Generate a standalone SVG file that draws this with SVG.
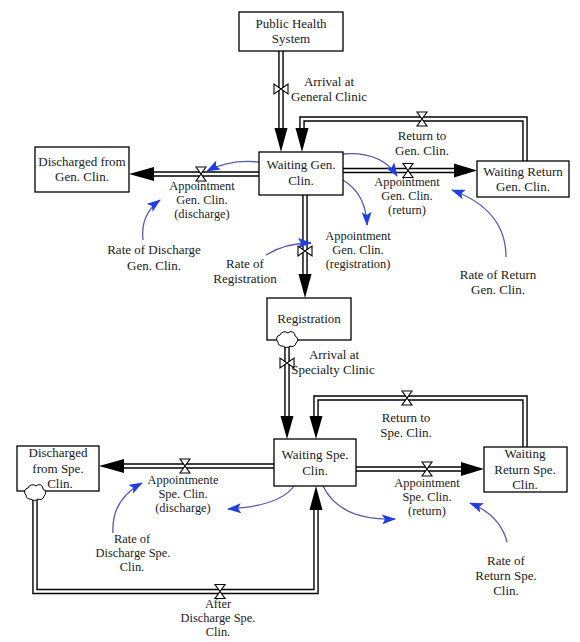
<svg xmlns="http://www.w3.org/2000/svg" xmlns:xlink="http://www.w3.org/1999/xlink" width="580" height="642" viewBox="0 0 580 642">
<style>
.box{fill:#fff;stroke:#000;stroke-width:1.3}
text{font-family:"Liberation Serif","Times New Roman",serif;font-size:13px;fill:#1a1a1a;text-anchor:middle}
.sm text{font-size:12.4px}
.po{fill:none;stroke:#000;stroke-width:5.5;stroke-linejoin:miter}
.pi{fill:none;stroke:#fff;stroke-width:2.7;stroke-linejoin:miter}
.ah{fill:#000}
.valve{fill:#fff;stroke:#000;stroke-width:1.1}
.cloud{fill:#fff;stroke:#000;stroke-width:1}
.link{fill:none;stroke:#5a5aa6;stroke-width:1.3;marker-end:url(#ba)}
</style>
<defs>
<marker id="ba" viewBox="0 0 14 10" refX="13" refY="5" markerWidth="14" markerHeight="10" markerUnits="userSpaceOnUse" orient="auto">
<path d="M0,0 L14,5 L0,10 L3,5 Z" fill="#1f3fe0"/>
</marker>
<path id="hg" d="M-5,-7H5L-5,7H5Z"/>
<path id="bt" d="M-7,-5V5L7,-5V5Z"/>
<path id="cl" d="M-9,3 A4,4 0 0 1 -7,-4 A5,5 0 0 1 1,-6 A4,4 0 0 1 8,-3 A4,4 0 0 1 9,4 A4,4 0 0 1 3,7 A5,5 0 0 1 -4,7 A4,4 0 0 1 -9,3 Z"/>
</defs>
<rect width="580" height="642" fill="#fff"/>

<g id="connectors">
<!-- pipes -->
<path class="po" d="M281,51V129"/><path class="pi" d="M281,51V130"/>
<path class="po" d="M525,161V119H302V129"/><path class="pi" d="M525,161V119H302V130"/>
<path class="po" d="M343,170.5H455"/><path class="pi" d="M343,170.5H456"/>
<path class="po" d="M259,174H153"/><path class="pi" d="M259,174H152"/>
<path class="po" d="M305,195V275"/><path class="pi" d="M305,195V276"/>
<path class="po" d="M287,345V417"/><path class="pi" d="M287,345V418"/>
<path class="po" d="M525,447V398H316V417"/><path class="pi" d="M525,447V398H316V418"/>
<path class="po" d="M356,469H462"/><path class="pi" d="M356,469H463"/>
<path class="po" d="M274,466H123"/><path class="pi" d="M274,466H122"/>
<path class="po" d="M35,497V591.5H316V509"/><path class="pi" d="M35,497V591.5H316V508"/>
<!-- arrowheads -->
<polygon class="ah" points="274.5,128 287.5,128 281,152"/>
<polygon class="ah" points="295.5,128 308.5,128 302,152"/>
<polygon class="ah" points="454,163.5 454,177.5 477,170.5"/>
<polygon class="ah" points="154,167 154,181 129,174"/>
<polygon class="ah" points="298.5,274 311.5,274 305,298"/>
<polygon class="ah" points="280.5,416 293.5,416 287,439"/>
<polygon class="ah" points="309.5,416 322.5,416 316,439"/>
<polygon class="ah" points="461,462 461,476 484,469"/>
<polygon class="ah" points="124,459 124,473 99,466"/>
<polygon class="ah" points="309.5,510 322.5,510 316,486"/>
<!-- information links -->
<path class="link" d="M259,162 Q230,159 207,171"/>
<path class="link" d="M143,240 Q140,215 160,200"/>
<path class="link" d="M266,255 Q285,243 311,243"/>
<path class="link" d="M343,180 Q366,194 367,225"/>
<path class="link" d="M343,154 Q381,151 397,176"/>
<path class="link" d="M506,257 Q506,210 452,190"/>
<path class="link" d="M294,486 Q280,506 228,509"/>
<path class="link" d="M113,533 Q111,500 142,483"/>
<path class="link" d="M323,486 Q340,521 395,519"/>
<path class="link" d="M507,542 Q500,515 470,503"/>
</g>

<g id="public-health-system">
<rect class="box" x="239" y="12" width="104" height="39"/>
<text x="291" y="28">Public Health</text>
<text x="291" y="43">System</text>
</g>
<g id="waiting-gen-clin">
<rect class="box" x="259" y="152" width="84" height="43"/>
<text x="301" y="169">Waiting Gen.</text>
<text x="301" y="185">Clin.</text>
</g>
<g id="discharged-gen-clin">
<rect class="box" x="35" y="147" width="94" height="45"/>
<text x="82" y="166">Discharged from</text>
<text x="82" y="181">Gen. Clin.</text>
</g>
<g id="waiting-return-gen-clin">
<rect class="box" x="477" y="161" width="92" height="36"/>
<text x="523" y="176">Waiting Return</text>
<text x="523" y="191">Gen. Clin.</text>
</g>
<g id="registration">
<rect class="box" x="267" y="298" width="84" height="42"/>
<text x="309" y="323">Registration</text>
<use href="#cl" class="cloud" x="287" y="339"/>
</g>
<g id="waiting-spe-clin">
<rect class="box" x="274" y="439" width="82" height="47"/>
<text x="315" y="459">Waiting Spe.</text>
<text x="315" y="475">Clin.</text>
</g>
<g id="waiting-return-spe-clin">
<rect class="box" x="484" y="447" width="83" height="45"/>
<text x="525" y="458">Waiting</text>
<text x="525" y="474">Return Spe.</text>
<text x="525" y="489">Clin.</text>
</g>
<g id="discharged-spe-clin">
<rect class="box" x="17" y="446" width="82" height="45"/>
<text x="58" y="457">Discharged</text>
<text x="58" y="473">from Spe.</text>
<text x="60" y="488">Clin.</text>
<use href="#cl" class="cloud" x="35" y="492"/>
</g>

<g id="arrival-general-clinic">
<use href="#bt" class="valve" x="281" y="89"/>
<text x="329" y="86">Arrival at</text>
<text x="329" y="101">General Clinic</text>
</g>
<g id="return-to-gen-clin">
<use href="#hg" class="valve" x="422" y="119"/>
<text x="422" y="140">Return to</text>
<text x="422" y="155">Gen. Clin.</text>
</g>
<g id="appointment-gen-clin-return" class="sm">
<use href="#hg" class="valve" x="408" y="170.5"/>
<text x="407" y="186">Appointment</text>
<text x="407" y="200">Gen. Clin.</text>
<text x="407" y="214">(return)</text>
</g>
<g id="appointment-gen-clin-discharge" class="sm">
<use href="#hg" class="valve" x="201" y="174"/>
<text x="202" y="190">Appointment</text>
<text x="202" y="204">Gen. Clin.</text>
<text x="202" y="218">(discharge)</text>
</g>
<g id="appointment-gen-clin-registration" class="sm">
<use href="#bt" class="valve" x="305" y="251"/>
<text x="358" y="240">Appointment</text>
<text x="358" y="254">Gen. Clin.</text>
<text x="358" y="268">(registration)</text>
</g>
<g id="rate-discharge-gen-clin">
<text x="154" y="254">Rate of Discharge</text>
<text x="154" y="270">Gen. Clin.</text>
</g>
<g id="rate-registration">
<text x="245" y="268">Rate of</text>
<text x="245" y="283">Registration</text>
</g>
<g id="rate-return-gen-clin">
<text x="498" y="279">Rate of Return</text>
<text x="498" y="294">Gen. Clin.</text>
</g>
<g id="arrival-specialty-clinic">
<use href="#bt" class="valve" x="287" y="363"/>
<text x="334" y="359">Arrival at</text>
<text x="333" y="374">Specialty Clinic</text>
</g>
<g id="return-to-spe-clin">
<use href="#hg" class="valve" x="407" y="398"/>
<text x="406" y="422">Return to</text>
<text x="406" y="437">Spe. Clin.</text>
</g>
<g id="appointment-spe-clin-return" class="sm">
<use href="#hg" class="valve" x="427" y="469"/>
<text x="427" y="487">Appointment</text>
<text x="427" y="501">Spe. Clin.</text>
<text x="427" y="515">(return)</text>
</g>
<g id="appointmente-spe-clin-discharge" class="sm">
<use href="#hg" class="valve" x="185" y="466"/>
<text x="183" y="484">Appointmente</text>
<text x="183" y="498">Spe. Clin.</text>
<text x="183" y="512">(discharge)</text>
</g>
<g id="rate-discharge-spe-clin" class="sm">
<text x="132" y="543">Rate of</text>
<text x="133" y="557">Discharge Spe.</text>
<text x="132" y="571">Clin.</text>
</g>
<g id="rate-return-spe-clin">
<text x="506" y="565">Rate of</text>
<text x="506" y="580">Return Spe.</text>
<text x="506" y="595">Clin.</text>
</g>
<g id="after-discharge-spe-clin" class="sm">
<use href="#hg" class="valve" x="220" y="591.5"/>
<text x="218" y="608">After</text>
<text x="218" y="622">Discharge Spe.</text>
<text x="218" y="636">Clin.</text>
</g>
</svg>
